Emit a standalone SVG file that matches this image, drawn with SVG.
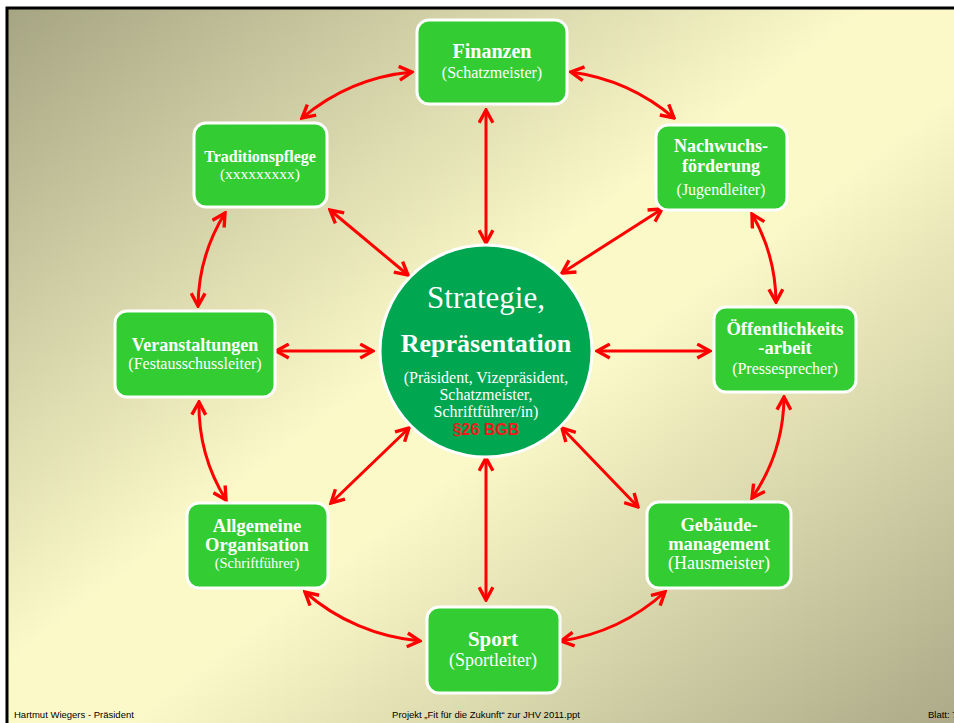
<svg xmlns="http://www.w3.org/2000/svg" width="954" height="723" viewBox="0 0 954 723">
<defs>
<linearGradient id="bg" x1="0" y1="0" x2="1" y2="1">
<stop offset="0" stop-color="#a6a583"/>
<stop offset="0.45" stop-color="#fbf9c8"/>
<stop offset="0.55" stop-color="#fbf9c8"/>
<stop offset="1" stop-color="#a9a785"/>
</linearGradient>
<marker id="ah" viewBox="0 0 16 16" refX="14" refY="8" markerWidth="17" markerHeight="17" markerUnits="userSpaceOnUse" orient="auto-start-reverse">
<path d="M2,1.5 L14,8 L2,14.5" fill="none" stroke="#ff0000" stroke-width="3.2" stroke-linejoin="miter"/>
</marker>
<style>
.node rect{fill:#33cc33;stroke:#ffffff;stroke-width:3}
.t{font-family:"Liberation Serif","Times New Roman",serif;fill:#ffffff;text-anchor:middle}
.b{font-weight:bold}
.c line,.c path{stroke:#ff0000;stroke-width:3;fill:none;marker-start:url(#ah);marker-end:url(#ah)}
.f{font-family:"Liberation Sans",Arial,sans-serif;font-size:9.5px;fill:#000000}
</style>
</defs>
<rect x="0" y="0" width="954" height="723" fill="#ffffff"/>
<rect x="7" y="8" width="960" height="730" fill="url(#bg)" stroke="#000000" stroke-width="3"/>

<g id="connectors" class="c">
<line x1="486" y1="110" x2="486" y2="243"/>
<line x1="330" y1="210" x2="408" y2="275"/>
<line x1="662" y1="209" x2="562" y2="273"/>
<line x1="276" y1="351" x2="373" y2="351"/>
<line x1="597" y1="351" x2="710" y2="351"/>
<line x1="331" y1="503" x2="409" y2="428"/>
<line x1="638" y1="507" x2="562" y2="428"/>
<line x1="486" y1="458" x2="486" y2="600"/>
<path d="M302,118 A200,200 0 0 1 412,72"/>
<path d="M571,72 A200,200 0 0 1 674,118"/>
<path d="M752,214 A180,180 0 0 1 776,302"/>
<path d="M784,397 A180,180 0 0 1 752,498"/>
<path d="M665,592 A200,200 0 0 1 561,641"/>
<path d="M420,641 A200,200 0 0 1 305,592"/>
<path d="M226,500 A180,180 0 0 1 199,402"/>
<path d="M198,306 A180,180 0 0 1 225,213"/>
</g>

<g id="center">
<circle cx="486" cy="351" r="106" fill="#00a650" stroke="#ffffff" stroke-width="3"/>
<text class="t" x="486" y="308" font-size="31">Strategie,</text>
<text class="t b" x="486" y="352" font-size="26">Repräsentation</text>
<text class="t" x="486" y="383" font-size="16">(Präsident, Vizepräsident,</text>
<text class="t" x="486" y="400" font-size="16">Schatzmeister,</text>
<text class="t" x="486" y="417" font-size="16">Schriftführer/in)</text>
<text x="486" y="435" font-size="16" font-weight="bold" fill="#ee1c1c" text-anchor="middle" font-family="'Liberation Sans',Arial,sans-serif">§26 BGB</text>
</g>

<g id="finanzen" class="node">
<rect x="417" y="20" width="150" height="84" rx="12"/>
<text class="t b" x="492" y="58" font-size="20">Finanzen</text>
<text class="t" x="492" y="78" font-size="16">(Schatzmeister)</text>
</g>

<g id="tradition" class="node">
<rect x="194" y="123" width="133" height="84" rx="12"/>
<text class="t b" x="260" y="162" font-size="16">Traditionspflege</text>
<text class="t" x="260" y="179" font-size="15.5">(xxxxxxxxx)</text>
</g>

<g id="nachwuchs" class="node">
<rect x="656" y="125" width="131" height="85" rx="12"/>
<text class="t b" x="721" y="152" font-size="18">Nachwuchs-</text>
<text class="t b" x="721" y="172" font-size="18">förderung</text>
<text class="t" x="721" y="195" font-size="16">(Jugendleiter)</text>
</g>

<g id="oeffentlichkeit" class="node">
<rect x="714" y="307" width="142" height="85" rx="12"/>
<text class="t b" x="785" y="335" font-size="18.5">Öffentlichkeits</text>
<text class="t b" x="785" y="354" font-size="18.5">-arbeit</text>
<text class="t" x="785" y="374" font-size="16">(Pressesprecher)</text>
</g>

<g id="veranstaltungen" class="node">
<rect x="115" y="311" width="160" height="86" rx="12"/>
<text class="t b" x="195" y="351" font-size="18">Veranstaltungen</text>
<text class="t" x="195" y="369" font-size="16">(Festausschussleiter)</text>
</g>

<g id="organisation" class="node">
<rect x="187" y="503" width="141" height="85" rx="12"/>
<text class="t b" x="257" y="532" font-size="18.5">Allgemeine</text>
<text class="t b" x="257" y="551" font-size="18.5">Organisation</text>
<text class="t" x="257" y="568" font-size="14.5">(Schriftführer)</text>
</g>

<g id="gebaeude" class="node">
<rect x="647" y="502" width="144" height="86" rx="12"/>
<text class="t b" x="719" y="531" font-size="18.5">Gebäude-</text>
<text class="t b" x="719" y="550" font-size="18.5">management</text>
<text class="t" x="719" y="569" font-size="18">(Hausmeister)</text>
</g>

<g id="sport" class="node">
<rect x="427" y="607" width="133" height="86" rx="12"/>
<text class="t b" x="493" y="646" font-size="21">Sport</text>
<text class="t" x="493" y="666" font-size="18">(Sportleiter)</text>
</g>

<g id="footer">
<text class="f" x="14" y="718">Hartmut Wiegers - Präsident</text>
<text class="f" x="486" y="718" text-anchor="middle">Projekt „Fit für die Zukunft“ zur JHV 2011.ppt</text>
<text class="f" x="928" y="718">Blatt: 7</text>
</g>
</svg>
